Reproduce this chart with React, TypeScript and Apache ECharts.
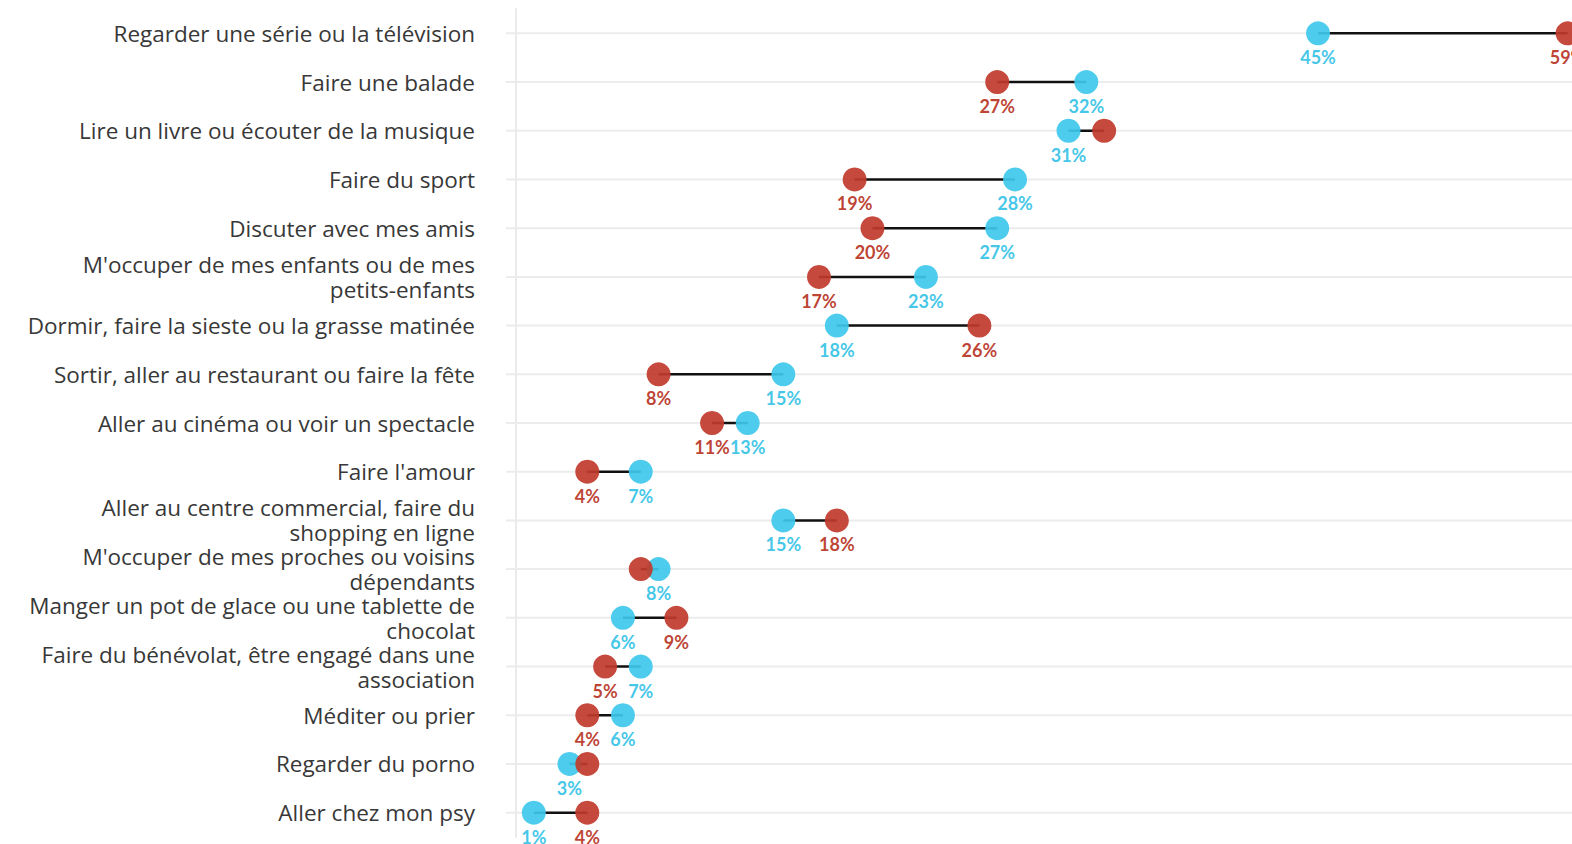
import React, { useEffect, useRef } from "react";
import * as echarts from "echarts";

const categories = [
  "Regarder une série ou la télévision",
  "Faire une balade",
  "Lire un livre ou écouter de la musique",
  "Faire du sport",
  "Discuter avec mes amis",
  "M'occuper de mes enfants ou de mes\npetits-enfants",
  "Dormir, faire la sieste ou la grasse matinée",
  "Sortir, aller au restaurant ou faire la fête",
  "Aller au cinéma ou voir un spectacle",
  "Faire l'amour",
  "Aller au centre commercial, faire du\nshopping en ligne",
  "M'occuper de mes proches ou voisins\ndépendants",
  "Manger un pot de glace ou une tablette de\nchocolat",
  "Faire du bénévolat, être engagé dans une\nassociation",
  "Méditer ou prier",
  "Regarder du porno",
  "Aller chez mon psy",
];

const valuesBlue = [45, 32, 31, 28, 27, 23, 18, 15, 13, 7, 15, 8, 6, 7, 6, 3, 1];
const valuesRed = [59, 27, 33, 19, 20, 17, 26, 8, 11, 4, 18, 7, 9, 5, 4, 4, 4];
const hiddenRedLabels = [2, 11, 15];

const BLUE = "#3ec8eb";
const RED = "#c0392b";
const LABEL_FONT = "'Open Sans', 'Noto Sans', sans-serif";
const VALUE_FONT = "Lato, 'Noto Sans', sans-serif";

export default function App() {
  const ref = useRef<HTMLDivElement>(null);

  useEffect(() => {
    if (!ref.current) return;
    const chart = echarts.init(ref.current, undefined, { renderer: "svg" });

    const valueLabel = (color: string) => ({
      show: true,
      position: "bottom",
      distance: 3,
      color,
      fontSize: 18,
      fontWeight: "bold",
      fontFamily: VALUE_FONT,
      formatter: (p: any) => p.value[0] + "%",
    });

    const option: any = {
      animation: false,
      backgroundColor: "#ffffff",
      textStyle: { fontFamily: LABEL_FONT },
      grid: { left: 516, right: 0, top: 9, bottom: 7, containLabel: false },
      xAxis: {
        type: "value",
        min: 0,
        max: 59.25,
        show: false,
        splitLine: { show: false },
      },
      yAxis: {
        type: "category",
        data: categories,
        inverse: true,
        boundaryGap: true,
        axisLine: { show: true, lineStyle: { color: "#ebebeb", width: 2 } },
        axisTick: { show: false },
        splitLine: { show: false },
        axisLabel: {
          margin: 41,
          fontSize: 22.5,
          lineHeight: 25,
          color: "#383838",
          fontFamily: LABEL_FONT,
          align: "right",
        },
      },
      series: [
        {
          type: "custom",
          name: "lines",
          z: 1,
          clip: false,
          data: categories.map((_, i) => [valuesBlue[i], valuesRed[i], i]),
          encode: { x: [0, 1], y: 2 },
          renderItem: (params: any, api: any) => {
            const b = api.value(0);
            const r = api.value(1);
            const i = api.value(2);
            const pb = api.coord([b, i]);
            const pr = api.coord([r, i]);
            const p0 = api.coord([0, i]);
            const cs = params.coordSys;
            return {
              type: "group",
              children: [
                {
                  type: "line",
                  shape: { x1: p0[0] - 10, y1: p0[1], x2: cs.x + cs.width, y2: p0[1] },
                  style: { stroke: "#ececec", lineWidth: 2 },
                },
                {
                  type: "line",
                  shape: { x1: pb[0], y1: pb[1], x2: pr[0], y2: pr[1] },
                  style: { stroke: "#111111", lineWidth: 2.5 },
                },
              ],
            };
          },
        },
        {
          type: "scatter",
          name: "blue",
          z: 3,
          symbolSize: 24,
          itemStyle: { color: BLUE, opacity: 0.92 },
          data: valuesBlue.map((v, i) => [v, i]),
          label: valueLabel("#33c2e6"),
        },
        {
          type: "scatter",
          name: "red",
          z: 4,
          symbolSize: 24,
          itemStyle: { color: RED, opacity: 0.92 },
          data: valuesRed.map((v, i) =>
            hiddenRedLabels.includes(i)
              ? { value: [v, i], label: { show: false } }
              : { value: [v, i] }
          ),
          label: valueLabel("#b8321f"),
        },
      ],
    };

    chart.setOption(option);
    return () => chart.dispose();
  }, []);

  return (
    <div
      ref={ref}
      style={{ position: "absolute", left: 0, top: 0, width: 1572, height: 844 }}
    />
  );
}
